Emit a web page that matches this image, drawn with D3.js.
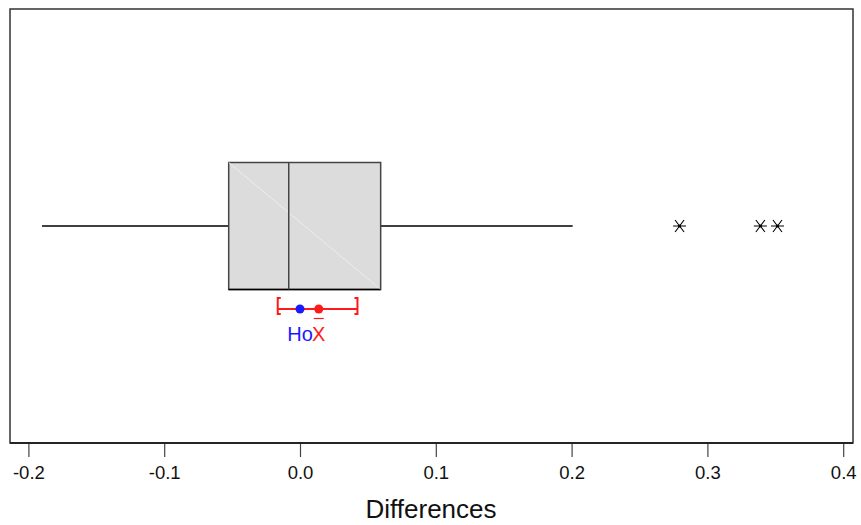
<!DOCTYPE html>
<html>
<head>
<meta charset="utf-8">
<script src="https://cdn.jsdelivr.net/npm/d3@7"></script>
<style>
  body { margin: 0; background: #fff; }
  text { font-family: Arial, "Liberation Sans", sans-serif; }
</style>
</head>
<body>
<script>
// boxplot summary of the differences
let whiskerLow = -0.190;
let q1 = -0.0525;
let median = -0.0083;
let q3 = 0.0594;
let whiskerHigh = 0.2008;
let outliers = [0.2795, 0.339, 0.3516];

// one-sample interval and hypothesised value
let meanX = 0.0138;
let ciLow = -0.0164;
let ciHigh = 0.0423;
let h0 = 0;

let xTicks = [-0.2, -0.1, 0.0, 0.1, 0.2, 0.3, 0.4];
let xLabel = "Differences";

let width = 861, height = 525;
let frame = {left: 10, top: 9, right: 853, bottom: 443};

let svg = d3.select("body").append("svg")
    .attr("width", width)
    .attr("height", height);

let x = d3.scaleLinear()
    .domain([-0.2, 0.4])
    .range([28.4, 843.2]);

let boxMid = 226, boxHalf = 63.5;
let ciY = 309;

// frame
svg.append("rect")
    .attr("x", frame.left)
    .attr("y", frame.top)
    .attr("width", frame.right - frame.left)
    .attr("height", frame.bottom - frame.top)
    .attr("fill", "none")
    .attr("stroke", "#333")
    .attr("stroke-width", 1.5);

// axis, plain hyphen for negatives like the original
let axis = d3.axisBottom(x)
    .tickValues(xTicks)
    .tickSize(14)
    .tickPadding(9)
    .tickFormat(d => d3.format(".1f")(d).replace("\u2212", "-"));

let ax = svg.append("g")
    .attr("transform", `translate(0,${frame.bottom})`)
    .call(axis);
ax.select(".domain").remove();
ax.selectAll(".tick line").attr("stroke", "#444").attr("stroke-width", 1.2);
ax.selectAll(".tick text")
    .attr("font-size", 18.5)
    .attr("fill", "#111")
    .attr("font-family", "Arial, 'Liberation Sans', sans-serif");
svg.append("line")
    .attr("x1", frame.left).attr("x2", frame.right)
    .attr("y1", frame.bottom).attr("y2", frame.bottom)
    .attr("stroke", "#111").attr("stroke-width", 1.5);

svg.append("text")
    .attr("x", 431)
    .attr("y", 518)
    .attr("text-anchor", "middle")
    .attr("font-size", 26)
    .attr("fill", "#111")
    .text(xLabel);

// whiskers
svg.append("line")
    .attr("x1", x(whiskerLow)).attr("x2", x(q1))
    .attr("y1", boxMid).attr("y2", boxMid)
    .attr("stroke", "#000").attr("stroke-width", 1.3);
svg.append("line")
    .attr("x1", x(q3)).attr("x2", x(whiskerHigh))
    .attr("y1", boxMid).attr("y2", boxMid)
    .attr("stroke", "#000").attr("stroke-width", 1.3);

// box
svg.append("rect")
    .attr("x", x(q1))
    .attr("y", boxMid - boxHalf)
    .attr("width", x(q3) - x(q1))
    .attr("height", 2 * boxHalf)
    .attr("fill", "#dcdcdc")
    .attr("stroke", "#444")
    .attr("stroke-width", 1.5);
svg.append("line")
    .attr("x1", x(q1)).attr("y1", boxMid - boxHalf)
    .attr("x2", x(q3)).attr("y2", boxMid + boxHalf)
    .attr("stroke", "#ececec").attr("stroke-width", 1);
svg.append("line")
    .attr("x1", x(q1)).attr("x2", x(q3))
    .attr("y1", boxMid + boxHalf).attr("y2", boxMid + boxHalf)
    .attr("stroke", "#000").attr("stroke-width", 1.5);
svg.append("line")
    .attr("x1", x(median)).attr("x2", x(median))
    .attr("y1", boxMid - boxHalf).attr("y2", boxMid + boxHalf)
    .attr("stroke", "#444").attr("stroke-width", 1.5);

// outliers as asterisks: horizontal stroke plus an X
function asterisk(cx, cy) {
    let p = d3.path();
    p.moveTo(cx - 6.5, cy); p.lineTo(cx + 6.5, cy);
    p.moveTo(cx - 4.5, cy - 6); p.lineTo(cx + 4.5, cy + 6);
    p.moveTo(cx - 4.5, cy + 6); p.lineTo(cx + 4.5, cy - 6);
    return p.toString();
}
svg.selectAll(".outlier")
    .data(outliers)
    .join("path")
    .attr("class", "outlier")
    .attr("d", d => asterisk(x(d), boxMid))
    .attr("fill", "none")
    .attr("stroke", "#000")
    .attr("stroke-width", 1.1);
svg.selectAll(".outlierDot")
    .data(outliers)
    .join("circle")
    .attr("cx", d => x(d)).attr("cy", boxMid).attr("r", 1.5)
    .attr("fill", "#000");

// confidence interval
let red = "#ff1a1a", blue = "#1a1aff";
svg.append("line")
    .attr("x1", x(ciLow)).attr("x2", x(ciHigh))
    .attr("y1", ciY).attr("y2", ciY)
    .attr("stroke", red).attr("stroke-width", 2);
[ciLow, ciHigh].forEach((v, i) => {
    let dir = i === 0 ? 1 : -1;
    svg.append("path")
        .attr("d", `M${x(v) + dir * 3},${ciY - 11} L${x(v)},${ciY - 11} L${x(v)},${ciY + 5} L${x(v) + dir * 3},${ciY + 5}`)
        .attr("fill", "none")
        .attr("stroke", red)
        .attr("stroke-width", 2);
});
svg.append("circle")
    .attr("cx", x(meanX)).attr("cy", ciY).attr("r", 4.5)
    .attr("fill", red);
svg.append("circle")
    .attr("cx", x(h0)).attr("cy", ciY).attr("r", 4.5)
    .attr("fill", blue);

// labels under the interval
svg.append("text")
    .attr("x", x(h0))
    .attr("y", 341)
    .attr("text-anchor", "middle")
    .attr("font-size", 20)
    .attr("fill", blue)
    .text("Ho");
svg.append("text")
    .attr("x", x(meanX))
    .attr("y", 341)
    .attr("text-anchor", "middle")
    .attr("font-size", 20)
    .attr("fill", red)
    .text("X");
svg.append("line")
    .attr("x1", x(meanX) - 5).attr("x2", x(meanX) + 5)
    .attr("y1", 318.5).attr("y2", 318.5)
    .attr("stroke", red).attr("stroke-width", 1.2);
</script>
</body>
</html>
